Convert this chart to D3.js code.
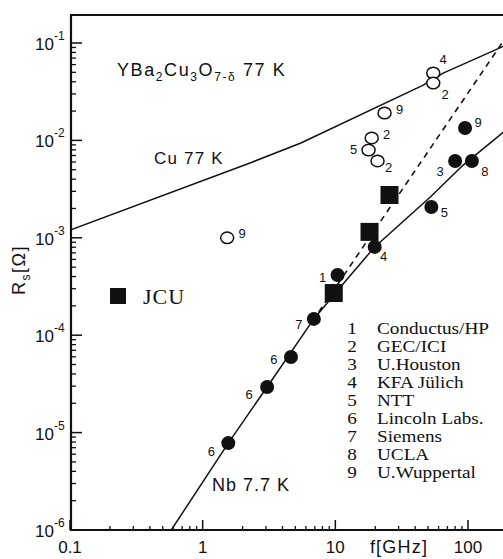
<!DOCTYPE html>
<html>
<head>
<meta charset="utf-8">
<script src="https://cdn.jsdelivr.net/npm/d3@7/dist/d3.min.js"></script>
<style>
  html, body { margin: 0; padding: 0; background: #fff; }
  svg { display: block; }
  .sans { font-family: "Liberation Sans", Arial, sans-serif; fill: #111; }
  .serif { font-family: "Liberation Serif", "Times New Roman", serif; fill: #111; }
</style>
</head>
<body>
<svg id="chart" width="503" height="559"></svg>
<script>
// Surface resistance vs frequency: Cu (77 K), YBCO films (77 K), Nb (7.7 K)

// Cu at 77 K reference curve
const cuF = [0.1, 2.3, 5.5, 46, 65, 190];
const cuR = [1.2e-3, 5.9e-3, 9.4e-3, 3.7e-2, 4.9e-2, 9.4e-2];

// YBCO f^2 scaling (dashed)
const ybcoF = [7.5, 185];
const ybcoR = [1.73e-4, 1.05e-1];

// Nb at 7.7 K
const nbF = [0.58, 1.56, 3.06, 6.89, 11.6, 19.8, 52, 92, 190];
const nbR = [1.0e-6, 7.8e-6, 2.94e-5, 1.47e-4, 3.44e-4, 8.06e-4, 2.62e-3, 5.58e-3, 1.25e-2];

// Filled circles (laboratory results)
const solidF = [1.56, 3.06, 4.63, 6.89, 10.4, 19.8, 52.9, 80, 107, 95];
const solidR = [7.8e-6, 2.94e-5, 5.97e-5, 1.47e-4, 4.15e-4, 8.06e-4, 2.07e-3, 6.15e-3, 6.15e-3, 1.34e-2];
const solidLab = ["6", "6", "6", "7", "1", "4", "5", "3", "8", "9"];

// Open circles (laboratory results)
const openF = [1.53, 23.5, 18.8, 17.8, 20.8, 54.7, 54.7];
const openR = [1.0e-3, 1.91e-2, 1.06e-2, 7.96e-3, 6.15e-3, 4.92e-2, 3.88e-2];
const openLab = ["9", "9", "2", "5", "2", "4", "2"];

// JCU squares
const jcuF = [9.73, 18.1, 25.6];
const jcuR = [2.71e-4, 1.15e-3, 2.75e-3];

// Group key
const groupIds = ["1", "2", "3", "4", "5", "6", "7", "8", "9"];
const groupNames = ["Conductus/HP", "GEC/ICI", "U.Houston", "KFA Jülich", "NTT",
                    "Lincoln Labs.", "Siemens", "UCLA", "U.Wuppertal"];

// Axis ticks
const xTicks = [0.1, 1, 10, 100];
const xTickLabels = ["0.1", "1", "10", "100"];
const yExponents = [-6, -5, -4, -3, -2, -1];

// ---- layout ----
const svg = d3.select("#chart");
const pLeft = 71, pRight = 503, pTop = 15, pBottom = 530;

const x = d3.scaleLog().domain([0.1, 100]).range([70, 468]);
const y = d3.scaleLog().domain([1e-6, 1e-1]).range([530, 43]);

// label offsets for the numbered markers (dx, dy)
const solidOff = [[-17, 9], [-18, 8], [-17, 3], [-15, 6], [-15, 3], [9, 10], [13, 6], [-15, 11], [13, 11], [13, -5]];
const openOff = [[15, -4], [15, -3], [15, -3], [-15, 0], [11, 7], [10, -13], [12, 12]];

svg.append("clipPath").attr("id", "plotclip")
  .append("rect").attr("x", pLeft).attr("y", pTop).attr("width", pRight - pLeft).attr("height", pBottom - pTop);

const plot = svg.append("g").attr("clip-path", "url(#plotclip)");

const line = d3.line().x(d => x(d[0])).y(d => y(d[1]));
const zip = (a, b) => a.map((v, i) => [v, b[i]]);

plot.append("path").attr("d", line(zip(cuF, cuR)))
  .attr("fill", "none").attr("stroke", "#111").attr("stroke-width", 1.5);
plot.append("path").attr("d", line(zip(ybcoF, ybcoR)))
  .attr("fill", "none").attr("stroke", "#111").attr("stroke-width", 1.6)
  .attr("stroke-dasharray", "6,5");
plot.append("path").attr("d", line(zip(nbF, nbR)))
  .attr("fill", "none").attr("stroke", "#111").attr("stroke-width", 1.5);

// axes frame
const axisG = svg.append("g").attr("stroke", "#111").attr("fill", "none");
axisG.append("line").attr("x1", pLeft).attr("x2", pLeft).attr("y1", pTop - 1).attr("y2", pBottom + 1).attr("stroke-width", 2.2);
axisG.append("line").attr("x1", pLeft - 1).attr("x2", pRight).attr("y1", pBottom).attr("y2", pBottom).attr("stroke-width", 2.2);
axisG.append("line").attr("x1", pLeft - 1).attr("x2", pRight).attr("y1", pTop).attr("y2", pTop).attr("stroke-width", 2.2);

// x ticks (pointing inward)
const xMinor = [];
for (let dec = 0.1; dec < 200; dec *= 10) {
  for (let k = 2; k <= 9; k++) {
    const v = dec * k;
    if (x(v) < pRight) xMinor.push(v);
  }
}
axisG.selectAll(".xmin").data(xMinor).join("line")
  .attr("x1", d => x(d)).attr("x2", d => x(d)).attr("y1", pBottom).attr("y2", pBottom - 4).attr("stroke-width", 1.3);
axisG.selectAll(".xmaj").data(xTicks).join("line")
  .attr("x1", d => x(d)).attr("x2", d => x(d)).attr("y1", pBottom).attr("y2", pBottom - 10).attr("stroke-width", 1.5);

// y ticks (pointing inward)
const yMinor = [];
yExponents.forEach(e => {
  for (let k = 2; k <= 9; k++) {
    const v = k * Math.pow(10, e);
    if (y(v) > pTop) yMinor.push(v);
  }
});
axisG.selectAll(".ymin").data(yMinor).join("line")
  .attr("x1", pLeft).attr("x2", pLeft + 5).attr("y1", d => y(d)).attr("y2", d => y(d)).attr("stroke-width", 1.3);
axisG.selectAll(".ymaj").data(yExponents).join("line")
  .attr("x1", pLeft).attr("x2", pLeft + 11).attr("y1", d => y(Math.pow(10, d))).attr("y2", d => y(Math.pow(10, d))).attr("stroke-width", 1.5);

// x tick labels
svg.selectAll(".xlab").data(xTicks).join("text")
  .attr("class", "sans").attr("x", d => x(d)).attr("y", 553)
  .attr("text-anchor", "middle").attr("font-size", 17)
  .text((d, i) => xTickLabels[i]);
svg.append("text").attr("class", "sans").attr("x", 399).attr("y", 553)
  .attr("text-anchor", "middle").attr("font-size", 18).attr("letter-spacing", 1.2).text("f[GHz]");

// y tick labels: 10 with superscript exponent
const yl = svg.selectAll(".ylab").data(yExponents).join("text")
  .attr("class", "sans").attr("font-size", 17)
  .attr("x", 35).attr("y", d => y(Math.pow(10, d)) + 7);
yl.append("tspan").text("10");
yl.append("tspan").attr("font-size", 12).attr("dy", -10).text(d => String(d));

// y axis title
const yt = svg.append("text").attr("class", "sans").attr("font-size", 18).attr("letter-spacing", 1.5)
  .attr("transform", "translate(25,270) rotate(-90)").attr("text-anchor", "middle");
yt.append("tspan").text("R");
yt.append("tspan").attr("font-size", 12).attr("dy", 5).text("s");
yt.append("tspan").attr("dy", -5).text("[Ω]");

// curve annotations
const t1 = svg.append("text").attr("class", "sans").attr("font-size", 18).attr("letter-spacing", 1.6)
  .attr("x", 117).attr("y", 76);
t1.append("tspan").text("YBa");
t1.append("tspan").attr("font-size", 12).attr("dy", 5).text("2");
t1.append("tspan").attr("dy", -5).text("Cu");
t1.append("tspan").attr("font-size", 12).attr("dy", 5).text("3");
t1.append("tspan").attr("dy", -5).text("O");
t1.append("tspan").attr("font-size", 12).attr("dy", 5).text("7-δ");
t1.append("tspan").attr("dy", -5).text(" 77 K");

svg.append("text").attr("class", "sans").attr("font-size", 17).attr("letter-spacing", 1.2)
  .attr("x", 154).attr("y", 164).text("Cu  77 K");
svg.append("text").attr("class", "sans").attr("font-size", 18).attr("letter-spacing", 1)
  .attr("x", 212).attr("y", 491).text("Nb 7.7 K");

// markers
const mk = svg.append("g");
mk.selectAll(".sq").data(zip(jcuF, jcuR)).join("rect")
  .attr("x", d => x(d[0]) - 9).attr("y", d => y(d[1]) - 9)
  .attr("width", 18).attr("height", 18).attr("fill", "#111");

mk.selectAll(".oc").data(zip(openF, openR)).join("ellipse")
  .attr("cx", d => x(d[0])).attr("cy", d => y(d[1]))
  .attr("rx", 6.5).attr("ry", 5.8).attr("fill", "#fff").attr("stroke", "#111").attr("stroke-width", 1.5);

mk.selectAll(".sc").data(zip(solidF, solidR)).join("circle")
  .attr("cx", d => x(d[0])).attr("cy", d => y(d[1]))
  .attr("r", 7).attr("fill", "#111");

// marker number labels
svg.selectAll(".slab").data(zip(solidF, solidR)).join("text")
  .attr("class", "sans").attr("font-size", 13).attr("text-anchor", "middle")
  .attr("x", (d, i) => x(d[0]) + solidOff[i][0]).attr("y", (d, i) => y(d[1]) + solidOff[i][1] + 4)
  .text((d, i) => solidLab[i]);
svg.selectAll(".olab").data(zip(openF, openR)).join("text")
  .attr("class", "sans").attr("font-size", 13).attr("text-anchor", "middle")
  .attr("x", (d, i) => x(d[0]) + openOff[i][0]).attr("y", (d, i) => y(d[1]) + openOff[i][1] + 4)
  .text((d, i) => openLab[i]);

// JCU key
svg.append("rect").attr("x", 110).attr("y", 288).attr("width", 16).attr("height", 16).attr("fill", "#111");
svg.append("text").attr("class", "serif").attr("font-size", 22).attr("letter-spacing", 1)
  .attr("x", 143).attr("y", 304).text("JCU");

// group key: widened serif rows on an 18px pitch
const key = svg.append("g");
groupIds.forEach((id, i) => {
  const yy = 334 + i * 18;
  key.append("text").attr("class", "serif").attr("font-size", 16)
    .attr("transform", `translate(352,${yy}) scale(1.2,1)`).attr("text-anchor", "middle").text(id);
  key.append("text").attr("class", "serif").attr("font-size", 16)
    .attr("transform", `translate(377,${yy}) scale(1.2,1)`).text(groupNames[i]);
});
</script>
</body>
</html>
